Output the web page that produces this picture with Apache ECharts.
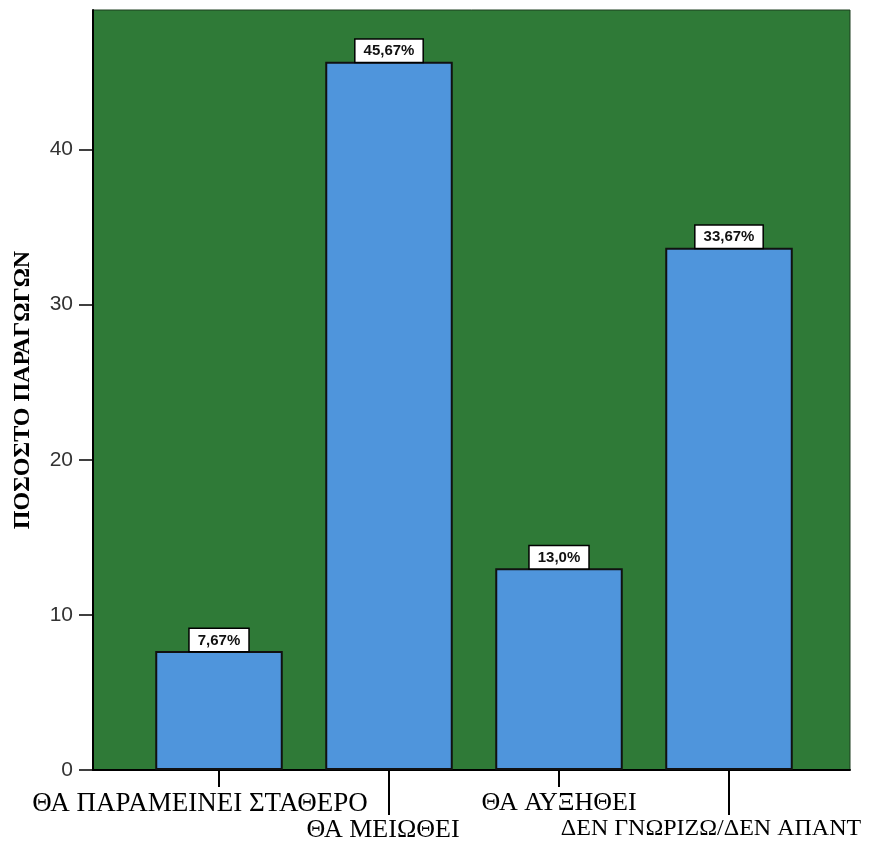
<!DOCTYPE html>
<html>
<head>
<meta charset="utf-8">
<script src="https://cdn.jsdelivr.net/npm/echarts@6/dist/echarts.min.js"></script>
<style>html,body{margin:0;padding:0;background:#fff}#c{width:872px;height:845px}</style>
</head>
<body>
<div id="c"></div>
<script>
const categories = ['ΘΑ ΠΑΡΑΜΕΙΝΕΙ ΣΤΑΘΕΡΟ', 'ΘΑ ΜΕΙΩΘΕΙ', 'ΘΑ ΑΥΞΗΘΕΙ', 'ΔΕΝ ΓΝΩΡΙΖΩ/ΔΕΝ ΑΠΑΝΤ'];
const values = [7.67, 45.67, 13.0, 33.67];
const valueLabels = ['7,67%', '45,67%', '13,0%', '33,67%'];
const yTicks = [0, 10, 20, 30, 40];
const yAxisName = 'ΠΟΣΟΣΤΟ ΠΑΡΑΓΩΓΩΝ';

const Y_MAX = 49;
const chart = echarts.init(document.getElementById('c'));
const serif = '"Liberation Serif", "DejaVu Serif", serif';
// per-category label styling (size and horizontal nudge) to mimic the scanned original
const rich = {
  r0: {fontFamily: serif, fontSize: 27, color: '#000', padding: [0, 38, 0, 0]},
  r1: {fontFamily: serif, fontSize: 26, color: '#000', padding: [0, 12, 0, 0]},
  r2: {fontFamily: serif, fontSize: 26, color: '#000'},
  r3: {fontFamily: serif, fontSize: 24, color: '#000', padding: [0, 36, 0, 0]}
};
const catFmt = (v) => '{r' + categories.indexOf(v) + '|' + v + '}';
chart.setOption({
  animation: false,
  backgroundColor: '#ffffff',
  grid: [
    {left: 93, top: 10, width: 757, height: 760, show: true, backgroundColor: '#2f7a37', borderColor: '#1c3d1f', borderWidth: 1},
    {left: 134, top: 10, width: 680, height: 760}
  ],
  xAxis: [
    {type: 'value', gridIndex: 0, min: 0, max: 1, axisLabel: {show: false}, axisTick: {show: false}, splitLine: {show: false},
     axisLine: {show: true, lineStyle: {color: '#000', width: 2}}},
    {type: 'category', gridIndex: 1, data: categories, position: 'bottom',
     axisLine: {show: false},
     axisTick: {show: true, alignWithLabel: true, length: 17, interval: (i) => i % 2 === 0, lineStyle: {color: '#000', width: 2}},
     axisLabel: {interval: (i) => i % 2 === 0, margin: 20, fontFamily: serif, fontSize: 26, color: '#000', formatter: catFmt, rich: rich}},
    {type: 'category', gridIndex: 1, data: categories, position: 'bottom',
     axisLine: {show: false},
     axisTick: {show: true, alignWithLabel: true, length: 45, interval: (i) => i % 2 === 1, lineStyle: {color: '#000', width: 2}},
     axisLabel: {interval: (i) => i % 2 === 1, margin: 47, fontFamily: serif, fontSize: 26, color: '#000', formatter: catFmt, rich: rich}}
  ],
  yAxis: [
    {type: 'value', gridIndex: 0, min: 0, max: Y_MAX, interval: 10,
     name: yAxisName, nameLocation: 'middle', nameRotate: 90, nameGap: 58,
     nameTextStyle: {fontFamily: serif, fontWeight: 'bold', fontSize: 24, color: '#000'},
     axisLine: {show: true, lineStyle: {color: '#000', width: 2}},
     axisTick: {show: true, length: 14, customValues: yTicks, lineStyle: {color: '#000', width: 1.5}},
     axisLabel: {customValues: yTicks, margin: 20, fontFamily: 'Liberation Sans', fontSize: 21, color: '#333'},
     splitLine: {show: false}},
    {type: 'value', gridIndex: 1, min: 0, max: Y_MAX, show: false, splitLine: {show: false}}
  ],
  series: [{
    type: 'bar', xAxisIndex: 1, yAxisIndex: 1, data: values, barWidth: '75%',
    itemStyle: {color: '#4f95dc', borderColor: '#111', borderWidth: 2},
    label: {show: true, position: 'top', distance: 0, formatter: (p) => valueLabels[p.dataIndex],
      backgroundColor: '#fff', borderColor: '#000', borderWidth: 1.5, padding: [4, 8, 3, 8],
      fontFamily: 'Liberation Sans', fontWeight: 'bold', fontSize: 15, color: '#111'}
  }]
});
</script>
</body>
</html>
